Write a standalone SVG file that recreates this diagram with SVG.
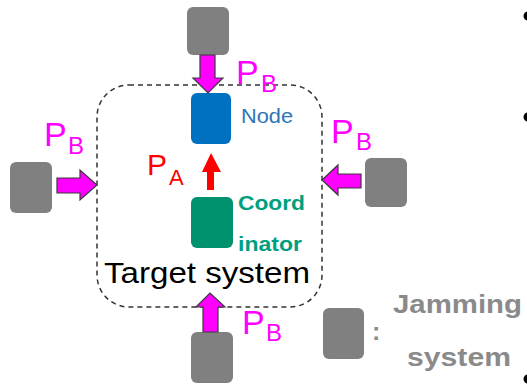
<svg xmlns="http://www.w3.org/2000/svg" width="527" height="385" viewBox="0 0 527 385">
  <style>
    .jam { fill: #808080; }
    .push { fill: #FF00FF; stroke: #3a3a3a; stroke-width: 1.2; stroke-linejoin: miter; }
    .pb { font-family: "Liberation Sans", Arial, sans-serif; fill: #FF00FF; }
    .pa { font-family: "Liberation Sans", Arial, sans-serif; fill: #FF0000; }
    .lbl { font-family: "Liberation Sans", Arial, sans-serif; }
  </style>

  <!-- target system boundary -->
  <g id="target-system">
    <rect x="97" y="85" width="225" height="222" rx="32" ry="32" fill="none" stroke="#333" stroke-width="1.5" stroke-dasharray="5,4"/>
    <text class="lbl" x="104" y="283" font-size="29" fill="#000" textLength="206" lengthAdjust="spacingAndGlyphs">Target system</text>
  </g>

  <!-- nodes inside the target system -->
  <g id="node">
    <rect x="191" y="93" width="40" height="51" rx="6" fill="#0070C0"/>
    <text class="lbl" x="241" y="123" font-size="21" fill="#2E75B6" textLength="52" lengthAdjust="spacingAndGlyphs">Node</text>
  </g>
  <g id="coordinator">
    <rect x="191" y="197" width="42" height="51" rx="6" fill="#00916E"/>
    <text class="lbl" x="238" y="210" font-size="21" font-weight="bold" fill="#00A07E" textLength="67" lengthAdjust="spacingAndGlyphs">Coord</text>
    <text class="lbl" x="238" y="251" font-size="21" font-weight="bold" fill="#00A07E" textLength="64" lengthAdjust="spacingAndGlyphs">inator</text>
  </g>

  <!-- jamming systems -->
  <g id="jammer-top"><rect class="jam" x="187" y="7" width="42" height="48" rx="6"/></g>
  <g id="jammer-left"><rect class="jam" x="10" y="162" width="42" height="51" rx="6"/></g>
  <g id="jammer-right"><rect class="jam" x="365" y="158" width="42" height="49" rx="6"/></g>
  <g id="jammer-bottom"><rect class="jam" x="191" y="332" width="42" height="51" rx="6"/></g>

  <!-- legend -->
  <g id="legend">
    <rect class="jam" x="323" y="308" width="41" height="51" rx="6"/>
    <text class="lbl" x="372" y="340" font-size="25" font-weight="bold" fill="#8a8a8a">:</text>
    <text class="lbl" x="393" y="313" font-size="25" font-weight="bold" fill="#8a8a8a" textLength="129" lengthAdjust="spacingAndGlyphs">Jamming</text>
    <text class="lbl" x="407" y="366" font-size="25" font-weight="bold" fill="#8a8a8a" textLength="104" lengthAdjust="spacingAndGlyphs">system</text>
  </g>

  <!-- connectors: jamming power arrows and the legitimate link -->
  <g id="connectors">
    <polygon class="push" points="200,55 215,55 215,78 223,78 208,93 193,78 200,78"/>
    <polygon class="push" points="57,178 80,178 80,170 97,185 80,200 80,193 57,193"/>
    <polygon class="push" points="361,174 338,174 338,165 322,180 338,195 338,188 361,188"/>
    <polygon class="push" points="203,332 203,307 196,307 210,293 225,307 218,307 218,332"/>
    <polygon fill="#FF0000" points="207,190 214,190 214,172 221,172 211,153 202,172 207,172"/>
  </g>

  <!-- power labels -->
  <g id="labels">
    <text class="pb" x="236" y="84" font-size="34">P<tspan font-size="24" x="261" y="92">B</tspan></text>
    <text class="pb" x="44" y="146" font-size="34">P<tspan font-size="24" x="68" y="154">B</tspan></text>
    <text class="pb" x="331" y="143" font-size="34">P<tspan font-size="24" x="356" y="150">B</tspan></text>
    <text class="pb" x="242" y="334" font-size="34">P<tspan font-size="24" x="266" y="341">B</tspan></text>
    <text class="pa" x="147" y="175" font-size="30">P<tspan font-size="22" x="169" y="185">A</tspan></text>
  </g>

  <!-- bullet marks along the right edge -->
  <g id="bullets" fill="#000">
    <circle cx="528" cy="16" r="4.5"/>
    <circle cx="528" cy="117" r="4.5"/>
    <circle cx="528" cy="379" r="4.5"/>
  </g>
</svg>
